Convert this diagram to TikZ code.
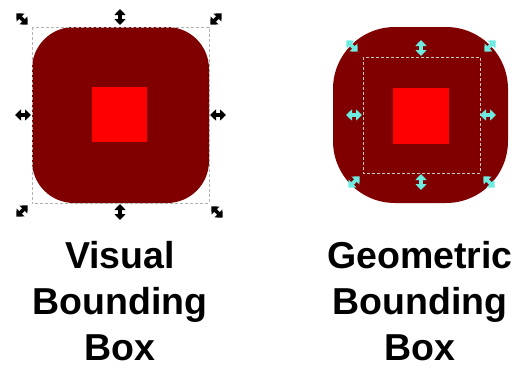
\documentclass[tikz,border=0pt]{standalone}
\usepackage{fontspec}
\setsansfont{Liberation Sans}
\usetikzlibrary{arrows.meta,positioning,calc}
\definecolor{boxred}{RGB}{128,0,0}
\definecolor{corered}{RGB}{255,0,0}
\definecolor{hdlcyan}{RGB}{110,235,225}
\tikzset{
  blob/.style   ={fill=boxred, draw=none, minimum width=177pt,
                  minimum height=176pt, inner sep=0pt, rounded corners=#1},
  blob/.default=42pt,
  core/.style   ={fill=corered, draw=none, minimum size=55pt, inner sep=0pt},
  bbox/.style   ={draw=gray!60, line width=0.6pt, dash pattern=on 3pt off 2pt},
  hdl/.style    ={{Triangle[length=6pt,width=11pt]}-{Triangle[length=6pt,width=11pt]},
                  line width=3.6pt, draw=black},
  chdl/.style   ={hdl, draw=hdlcyan},
  caption/.style={align=center, inner sep=0pt,
                  font=\sffamily\bfseries\fontsize{37.5}{46}\selectfont},
}

\begin{document}
\begin{tikzpicture}[x=1pt, y=-1pt]
  \useasboundingbox (0,0) rectangle (517,367);

  % visual bounding box
  \node[blob] (vis) at (120.5,115) {};
  \node[core] (viscore) at (119.5,114.5) {};
  \draw[bbox] (vis.north west) rectangle (vis.south east);
  \foreach \x/\y/\a in {120/17/90, 120/212/90, 23/115/0, 218/115/0,
                        22/19/45, 216/19/135, 22/211/135, 217/212/45}
    \draw[hdl] (\x,\y) ++(\a+180:8) -- ++(\a:16);

  % geometric bounding box
  \node[blob=62pt, minimum width=175pt] (geo) at (420.5,115) {};
  \node[core, minimum size=56pt] (geocore) at (421,115.5) {};
  \draw[bbox, draw=gray!45] (363,57) rectangle (480,173);
  \foreach \x/\y/\a in {421/48/90, 421/182/90, 354/115/0, 488/115/0,
                        352/46/45, 490/46/135, 354/182/135, 489/182/45}
    \draw[chdl] (\x,\y) ++(\a+180:8) -- ++(\a:16);

  \node[caption] (vislbl) at (120,301) {Visual\\Bounding\\Box};
  \node[caption] (geolbl) at (420,301) {Geometric\\Bounding\\Box};
\end{tikzpicture}
\end{document}
